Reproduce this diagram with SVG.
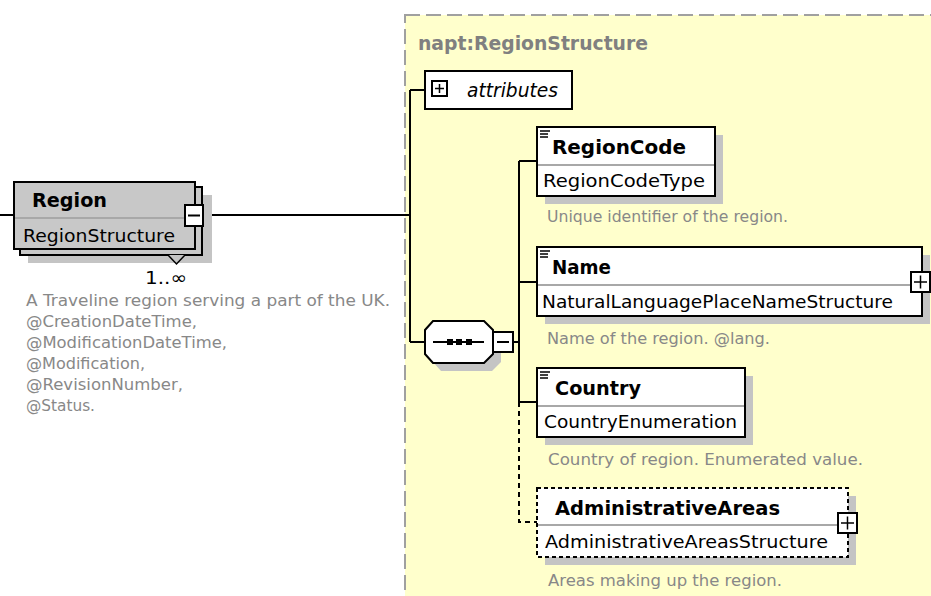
<svg xmlns="http://www.w3.org/2000/svg" width="931" height="596" viewBox="0 0 931 596">
<style>
text{font-family:"DejaVu Sans","Noto Sans",sans-serif}
.nm{font-weight:bold;font-size:19.5px;fill:#000}
.ty{font-size:18.5px;fill:#000}
.ds{font-size:15.7px;fill:#888}
.box{fill:#fff;stroke:#000;stroke-width:2}
.obox{fill:#fff;stroke:#000;stroke-width:2;stroke-dasharray:4 3}
.sh{fill:#c4c4c4}
.div{stroke:#a8a8a8;stroke-width:2}
.ln{stroke:#000;stroke-width:2;fill:none}
.dln{stroke:#000;stroke-width:2;fill:none;stroke-dasharray:5 4}
.ico{stroke:#000;stroke-width:1.5}
</style>
<rect id="complexType" x="405" y="15" width="560" height="620" fill="#ffffcc" stroke="#a0a0a0" stroke-width="2" stroke-dasharray="15 6"/>
<text x="418" y="50" font-size="18.8" font-weight="bold" fill="#808080" textLength="230" lengthAdjust="spacingAndGlyphs">napt:RegionStructure</text>

<g id="connectors">
<line class="ln" x1="0" y1="215" x2="14" y2="215"/>
<line class="ln" x1="203" y1="215" x2="410" y2="215"/>
<line class="ln" x1="410" y1="90" x2="410" y2="342"/>
<line class="ln" x1="410" y1="90" x2="425" y2="90"/>
<line class="ln" x1="410" y1="342" x2="425" y2="342"/>
<line class="ln" x1="513" y1="342" x2="519" y2="342"/>
<line class="ln" x1="519" y1="161" x2="519" y2="402"/>
<line class="ln" x1="519" y1="161" x2="537" y2="161"/>
<line class="ln" x1="519" y1="282" x2="537" y2="282"/>
<line class="ln" x1="519" y1="402" x2="537" y2="402"/>
<polyline class="dln" points="519,402 519,522 537,522"/>
</g>

<g id="Region">
<rect class="sh" x="28" y="195" width="184" height="68"/>
<rect x="20" y="187" width="182" height="68" fill="#c8c8c8" stroke="#000" stroke-width="2"/>
<rect x="14" y="182" width="181" height="67" fill="#c8c8c8" stroke="#000" stroke-width="2"/>
<line class="div" x1="15" y1="218" x2="194" y2="218"/>
<text class="nm" x="32" y="207" textLength="75" lengthAdjust="spacingAndGlyphs">Region</text>
<text class="ty" x="23" y="242" textLength="152" lengthAdjust="spacingAndGlyphs">RegionStructure</text>
<rect class="box" x="185" y="205" width="18" height="21"/>
<line class="ln" x1="188" y1="215.5" x2="200" y2="215.5"/>
<polyline points="168,255 176.5,264 185,255" fill="#c4c4c4" stroke="#000" stroke-width="1.5"/>
<text x="145" y="284" font-size="18" fill="#000" textLength="42" lengthAdjust="spacingAndGlyphs">1..∞</text>
<text class="ds" x="26" y="306" textLength="364" lengthAdjust="spacingAndGlyphs">A Traveline region serving a part of the UK.</text>
<text class="ds" x="26" y="327" textLength="171" lengthAdjust="spacingAndGlyphs">@CreationDateTime,</text>
<text class="ds" x="26" y="348" textLength="201" lengthAdjust="spacingAndGlyphs">@ModificationDateTime,</text>
<text class="ds" x="26" y="369" textLength="119" lengthAdjust="spacingAndGlyphs">@Modification,</text>
<text class="ds" x="26" y="390" textLength="157" lengthAdjust="spacingAndGlyphs">@RevisionNumber,</text>
<text class="ds" x="26" y="411" textLength="69" lengthAdjust="spacingAndGlyphs">@Status.</text>
</g>

<g id="attributes">
<rect class="box" x="425" y="71" width="147" height="38"/>
<rect class="box" x="432" y="81" width="15" height="15"/>
<line class="ico" x1="435" y1="88.5" x2="444" y2="88.5"/>
<line class="ico" x1="439.5" y1="84" x2="439.5" y2="93"/>
<text x="467" y="97" font-size="18.6" font-style="italic" fill="#000" textLength="91" lengthAdjust="spacingAndGlyphs">attributes</text>
</g>

<g id="sequence">
<polygon class="sh" points="441,329 492,329 501,338 501,362 492,371 441,371 433,362 433,338"/>
<polygon class="box" points="433,321 484,321 493,330 493,354 484,363 433,363 425,354 425,330"/>
<line class="ln" x1="433" y1="342" x2="484" y2="342"/>
<rect x="447" y="339" width="6" height="6" fill="#000"/>
<rect x="456" y="339" width="6" height="6" fill="#000"/>
<rect x="466" y="339" width="6" height="6" fill="#000"/>
<rect class="box" x="493" y="332" width="20" height="20"/>
<line class="ln" x1="497" y1="342" x2="509" y2="342"/>
</g>

<g id="RegionCode">
<rect class="sh" x="545" y="135" width="178" height="69"/>
<rect class="box" x="537" y="127" width="178" height="69"/>
<line class="div" x1="538" y1="165" x2="714" y2="165"/>
<line class="ico" x1="540" y1="131" x2="550" y2="131"/>
<line class="ico" x1="540" y1="134" x2="548" y2="134"/>
<line class="ico" x1="540" y1="137" x2="548" y2="137"/>
<text class="nm" x="552" y="154" textLength="134" lengthAdjust="spacingAndGlyphs">RegionCode</text>
<text class="ty" x="543" y="187" textLength="162" lengthAdjust="spacingAndGlyphs">RegionCodeType</text>
<text class="ds" x="547" y="222" textLength="241" lengthAdjust="spacingAndGlyphs">Unique identifier of the region.</text>
</g>

<g id="Name">
<rect class="sh" x="545" y="255" width="385" height="69"/>
<rect class="box" x="537" y="247" width="385" height="69"/>
<line class="div" x1="538" y1="285" x2="921" y2="285"/>
<line class="ico" x1="540" y1="251" x2="550" y2="251"/>
<line class="ico" x1="540" y1="254" x2="548" y2="254"/>
<line class="ico" x1="540" y1="257" x2="548" y2="257"/>
<text class="nm" x="552" y="274" textLength="59" lengthAdjust="spacingAndGlyphs">Name</text>
<text class="ty" x="542" y="308" textLength="351" lengthAdjust="spacingAndGlyphs">NaturalLanguagePlaceNameStructure</text>
<rect class="box" x="911" y="272" width="19" height="20"/>
<line class="ico" x1="914" y1="282" x2="927" y2="282"/>
<line class="ico" x1="920.5" y1="275.5" x2="920.5" y2="288.5"/>
<text class="ds" x="547" y="344" textLength="223" lengthAdjust="spacingAndGlyphs">Name of the region. @lang.</text>
</g>

<g id="Country">
<rect class="sh" x="545" y="376" width="208" height="69"/>
<rect class="box" x="537" y="368" width="208" height="69"/>
<line class="div" x1="538" y1="406" x2="744" y2="406"/>
<line class="ico" x1="540" y1="372" x2="550" y2="372"/>
<line class="ico" x1="540" y1="375" x2="548" y2="375"/>
<line class="ico" x1="540" y1="378" x2="548" y2="378"/>
<text class="nm" x="555" y="395" textLength="86" lengthAdjust="spacingAndGlyphs">Country</text>
<text class="ty" x="544" y="428" textLength="193" lengthAdjust="spacingAndGlyphs">CountryEnumeration</text>
<text class="ds" x="548" y="465" textLength="315" lengthAdjust="spacingAndGlyphs">Country of region. Enumerated value.</text>
</g>

<g id="AdministrativeAreas">
<rect class="sh" x="545" y="496" width="311" height="69"/>
<rect class="obox" x="537" y="488" width="311" height="69"/>
<line class="div" x1="538" y1="525" x2="847" y2="525"/>
<text class="nm" x="555" y="515" textLength="225" lengthAdjust="spacingAndGlyphs">AdministrativeAreas</text>
<text class="ty" x="545" y="548" textLength="283" lengthAdjust="spacingAndGlyphs">AdministrativeAreasStructure</text>
<rect class="box" x="838" y="513" width="19" height="20"/>
<line class="ico" x1="841" y1="523" x2="854" y2="523"/>
<line class="ico" x1="847.5" y1="516.5" x2="847.5" y2="529.5"/>
<text class="ds" x="548" y="586" textLength="234" lengthAdjust="spacingAndGlyphs">Areas making up the region.</text>
</g>
</svg>
